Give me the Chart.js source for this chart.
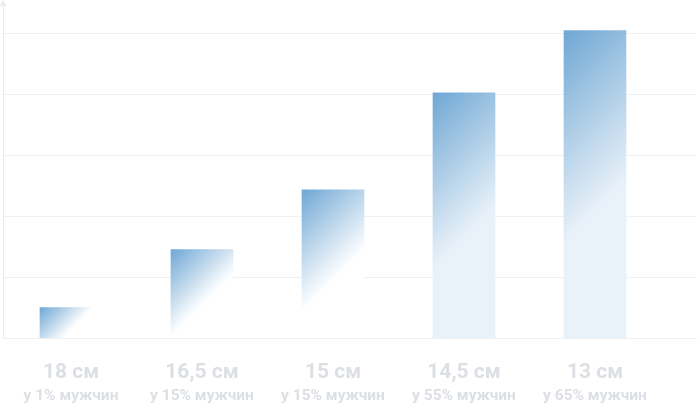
<!DOCTYPE html>
<html>
<head>
<meta charset="utf-8">
<script src="https://cdn.jsdelivr.net/npm/chart.js@4"></script>
<style>
html,body{margin:0;padding:0;background:#fff;}
canvas{display:block;}
</style>
</head>
<body>
<canvas id="c" width="700" height="404"></canvas>
<script>
// ---- data ----
const sizes = ['18 см', '16,5 см', '15 см', '14,5 см', '13 см'];
const shares = ['у 1% мужчин', 'у 15% мужчин', 'у 15% мужчин', 'у 55% мужчин', 'у 65% мужчин'];
const values = [0.5, 1.45, 2.43, 4.02, 5.04];

// ---- style ----
const BLUE = '#6fa7d4';
const endColors = ['#ffffff', '#ffffff', '#ffffff', '#eaf2f9', '#eaf2f9'];
const LABEL_COLOR = '#dcdfe3';
const GRID = '#f0f0f0';

function barFill(ctx) {
  const chart = ctx.chart;
  if (!chart.chartArea || ctx.type !== 'data') return BLUE;
  const i = ctx.dataIndex;
  const xs = chart.scales.x, ys = chart.scales.y;
  const cx = xs.getPixelForValue(i);
  const w = 62;
  const left = cx - w / 2;
  const top = ys.getPixelForValue(values[i]);
  const bottom = ys.getPixelForValue(0);
  const h = bottom - top;
  const d = (w + h) / 2;
  const g = chart.ctx.createLinearGradient(left, top, left + d, top + d);
  g.addColorStop(0, BLUE);
  g.addColorStop(0.58, endColors[i]);
  g.addColorStop(1, endColors[i]);
  return g;
}

const arrowPlugin = {
  id: 'arrow',
  afterDraw(chart) {
    const c = chart.ctx;
    const x = chart.chartArea.left;
    c.save();
    c.fillStyle = '#ececec';
    c.beginPath();
    c.moveTo(x, 0);
    c.lineTo(x - 3.5, 6);
    c.lineTo(x + 3.5, 6);
    c.closePath();
    c.fill();
    c.restore();
  }
};

const xMin = -0.519, xMax = 4.771;
const labelCb = (arr) => (v) => Number.isInteger(v) && v >= 0 && v < arr.length ? arr[v] : '';

new Chart(document.getElementById('c'), {
  type: 'bar',
  data: {
    datasets: [{
      data: values.map((v, i) => ({ x: i, y: v })),
      backgroundColor: barFill,
      borderWidth: 0,
      barThickness: 62,
      xAxisID: 'x',
      yAxisID: 'y'
    }]
  },
  options: {
    responsive: false,
    animation: false,
    layout: { padding: { left: 3, right: 4, top: 2.5, bottom: 0 } },
    plugins: { legend: { display: false }, tooltip: { enabled: false } },
    scales: {
      x: {
        type: 'linear',
        position: 'bottom',
        offset: false,
        min: xMin, max: xMax,
        grid: { display: true, drawTicks: true, tickLength: 20.8, color: 'rgba(0,0,0,0)' },
        border: { display: true, color: GRID, width: 1 },
        ticks: {
          stepSize: 1,
          includeBounds: false,
          autoSkip: false,
          maxRotation: 0,
          padding: 0,
          color: LABEL_COLOR,
          font: { family: 'Roboto', weight: 'bold', size: 21, lineHeight: 1.35 },
          callback: labelCb(sizes)
        }
      },
      x2: {
        type: 'linear',
        position: 'bottom',
        offset: false,
        min: xMin, max: xMax,
        grid: { display: false, drawTicks: false },
        border: { display: false },
        ticks: {
          stepSize: 1,
          includeBounds: false,
          autoSkip: false,
          maxRotation: 0,
          padding: 0,
          color: LABEL_COLOR,
          font: { family: 'Roboto', weight: 'bold', size: 15.5, lineHeight: 1.08 },
          callback: labelCb(shares)
        }
      },
      y: {
        min: 0, max: 5.5,
        grid: {
          drawTicks: false,
          color: (c) => (c.tick && Number.isInteger(c.tick.value)) ? GRID : 'rgba(0,0,0,0)',
          lineWidth: 1
        },
        border: { display: true, color: '#ececec', width: 1 },
        ticks: { display: false, stepSize: 1 }
      }
    }
  },
  plugins: [arrowPlugin]
});
</script>
</body>
</html>
